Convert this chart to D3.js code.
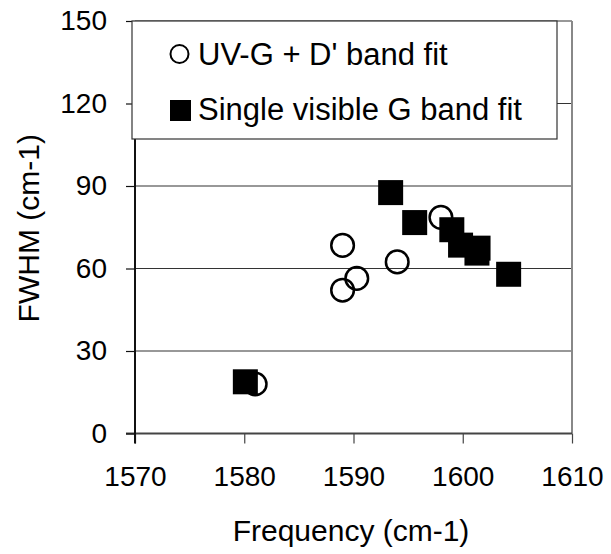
<!DOCTYPE html>
<html>
<head>
<meta charset="utf-8">
<script src="https://cdn.jsdelivr.net/npm/d3@7"></script>
<style>
  html, body { margin: 0; padding: 0; background: #fff; }
  svg { display: block; font-family: "Liberation Sans", Arial, sans-serif; }
</style>
</head>
<body>
<svg id="chart" width="611" height="554"></svg>
<script>
// Data
const uvFreq   = [1589.0, 1590.3, 1589.0, 1594.0, 1598.0, 1581.0];
const uvFwhm   = [68.4, 56.4, 52.1, 62.4, 78.6, 18.0];
const visFreq  = [1580.1, 1593.4, 1595.6, 1599.0, 1599.8, 1601.4, 1601.3, 1604.2];
const visFwhm  = [18.8, 87.6, 76.7, 74.1, 68.5, 67.4, 65.6, 57.9];
const xTicks   = [1570, 1580, 1590, 1600, 1610];
const yTicks   = [0, 30, 60, 90, 120, 150];
const seriesNames = ["UV-G + D' band fit", "Single visible G band fit"];

const svg = d3.select("#chart");
const L = 135, R = 572, T = 21, B = 433.5;
const x = d3.scaleLinear().domain([1570, 1610]).range([L, R]);
const y = d3.scaleLinear().domain([0, 150]).range([B, T]);
const tickFs = 28, titleFs = 30, legFs = 31;

// gridlines
svg.append("g").selectAll("line").data(yTicks.filter(d => d > 0)).join("line")
  .attr("x1", L).attr("x2", R)
  .attr("y1", d => y(d)).attr("y2", d => y(d))
  .attr("stroke", "#333").attr("stroke-width", 1.2);

// right border
svg.append("line").attr("x1", R).attr("x2", R).attr("y1", T).attr("y2", B)
  .attr("stroke", "#888").attr("stroke-width", 2);

// axes
const xAxis = d3.axisBottom(x).tickValues(xTicks).tickSize(10).tickPadding(23).tickFormat(d3.format("d"));
const gx = svg.append("g").attr("transform", `translate(0,${B})`).call(xAxis);
gx.select(".domain").attr("stroke", "#444").attr("stroke-width", 2).attr("d", `M${L - 9},0H${R}`);
gx.selectAll(".tick line").attr("stroke", "#444").attr("stroke-width", 1.2);
gx.selectAll(".tick text").attr("font-size", tickFs).attr("font-family", "Liberation Sans, Arial, sans-serif").attr("fill", "#000");

const yAxis = d3.axisLeft(y).tickValues(yTicks).tickSize(9).tickPadding(19).tickFormat(d3.format("d"));
const gy = svg.append("g").attr("transform", `translate(${L},0)`).call(yAxis);
gy.select(".domain").attr("stroke", "#111").attr("stroke-width", 2).attr("d", `M0,${T}V${B + 10}`);
gy.selectAll(".tick line").attr("stroke", "#111").attr("stroke-width", 1.2);
gy.selectAll(".tick text").attr("font-size", tickFs).attr("font-family", "Liberation Sans, Arial, sans-serif").attr("fill", "#000");

// axis titles
svg.append("text").attr("x", 351).attr("y", 541).attr("text-anchor", "middle")
  .attr("font-size", titleFs).attr("fill", "#000").text("Frequency (cm-1)");
svg.append("text").attr("transform", `translate(39,${(T + B) / 2 + 1}) rotate(-90)`).attr("text-anchor", "middle")
  .attr("font-size", titleFs).attr("fill", "#000").text("FWHM (cm-1)");

// open circles
const uv = uvFreq.map((f, i) => ({ f, w: uvFwhm[i] }));
svg.append("g").selectAll("circle").data(uv).join("circle")
  .attr("cx", d => x(d.f)).attr("cy", d => y(d.w)).attr("r", 11.3)
  .attr("fill", "none").attr("stroke", "#000").attr("stroke-width", 2.5);

// filled squares
const vis = visFreq.map((f, i) => ({ f, w: visFwhm[i] }));
const s = 25;
svg.append("g").selectAll("rect").data(vis).join("rect")
  .attr("x", d => x(d.f) - s / 2).attr("y", d => y(d.w) - s / 2)
  .attr("width", s).attr("height", s).attr("fill", "#000");

// legend
const lg = svg.append("g");
lg.append("rect").attr("x", 132).attr("y", T).attr("width", 425).attr("height", 118)
  .attr("fill", "#fff").attr("stroke", "#333").attr("stroke-width", 1.2);
lg.append("circle").attr("cx", 179.5).attr("cy", 54).attr("r", 9)
  .attr("fill", "none").attr("stroke", "#000").attr("stroke-width", 2);
lg.append("rect").attr("x", 170).attr("y", 100).attr("width", 21).attr("height", 21).attr("fill", "#000");
lg.selectAll("text").data(seriesNames).join("text")
  .attr("x", 198).attr("y", (d, i) => i === 0 ? 65 : 120)
  .attr("font-size", legFs).attr("fill", "#000").text(d => d);
</script>
</body>
</html>
